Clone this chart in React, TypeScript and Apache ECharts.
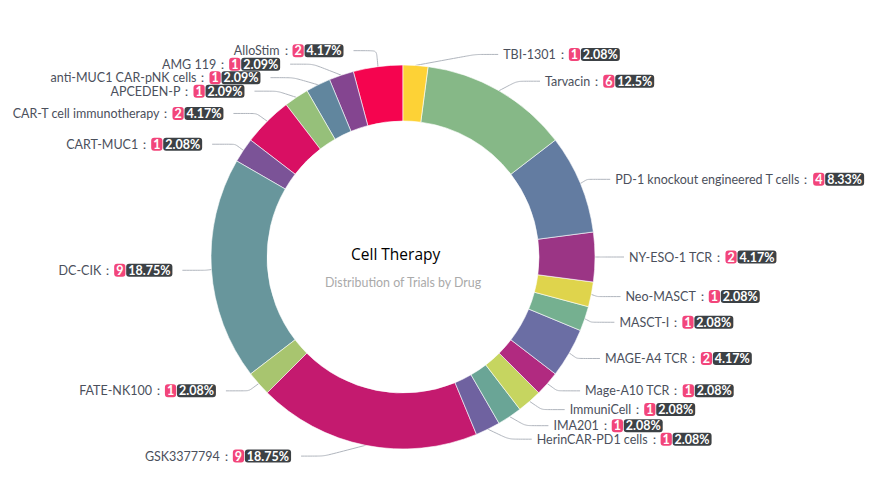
import React, { useEffect, useRef } from "react";
import * as echarts from "echarts";

const drugNames = [
  "AlloStim",
  "AMG 119",
  "anti-MUC1 CAR-pNK cells",
  "APCEDEN-P",
  "CAR-T cell immunotherapy",
  "CART-MUC1",
  "DC-CIK",
  "FATE-NK100",
  "GSK3377794",
  "HerinCAR-PD1 cells",
  "IMA201",
  "ImmuniCell",
  "Mage-A10 TCR",
  "MAGE-A4 TCR",
  "MASCT-I",
  "Neo-MASCT",
  "NY-ESO-1 TCR",
  "PD-1 knockout engineered T cells",
  "Tarvacin",
  "TBI-1301",
];

const trialCounts = [2, 1, 1, 1, 2, 1, 9, 1, 9, 1, 1, 1, 1, 2, 1, 1, 2, 4, 6, 1];

const sliceColors = [
  "#f5044f",
  "#844590",
  "#61869e",
  "#96c07a",
  "#d90f63",
  "#7b5397",
  "#68969c",
  "#a8c56f",
  "#c41a6f",
  "#6f62a0",
  "#6aa596",
  "#c6d560",
  "#b12a80",
  "#6b6ea4",
  "#75b090",
  "#dfd44c",
  "#9b3585",
  "#637ca1",
  "#86b887",
  "#fdd236",
];

const chartTitle = "Cell Therapy";
const chartSubtitle = "Distribution of Trials by Drug";

// geometry
const CX = 403;
const CY = 257;
const R_IN = 136;
const R_OUT = 192;
const LINE_LEN = 11;
const LINE_LEN2 = 23;
const LABEL_GAP = 5;
const LABEL_H = 13.5;

type LabelPos = {
  x: number;
  y: number;
  dir: number;
  p0: [number, number];
};

function computeLabelLayout(values: number[]): LabelPos[] {
  const total = values.reduce((a, b) => a + b, 0);
  let cum = 0;
  const items = values.map((v, i) => {
    const midDeg = 90 + ((cum + v / 2) / total) * 360;
    cum += v;
    const a = (midDeg * Math.PI) / 180;
    const cos = Math.cos(a);
    const sin = Math.sin(a);
    const dir = cos < 0 ? -1 : 1;
    return {
      i,
      dir,
      cos,
      sin,
      y0: CY - (R_OUT + LINE_LEN) * sin,
      y: 0,
      p0: [CX + R_OUT * cos, CY - R_OUT * sin] as [number, number],
    };
  });
  // resolve overlaps per side by clustering
  [-1, 1].forEach((d) => {
    const side = items.filter((it) => it.dir === d).sort((a, b) => a.y0 - b.y0);
    let clusters: { list: typeof side; c: number }[] = [];
    side.forEach((it) => {
      clusters.push({ list: [it], c: it.y0 });
      let merged = true;
      while (merged && clusters.length > 1) {
        merged = false;
        const b = clusters[clusters.length - 1];
        const a = clusters[clusters.length - 2];
        const aLast = a.c + ((a.list.length - 1) * LABEL_H) / 2;
        const bFirst = b.c - ((b.list.length - 1) * LABEL_H) / 2;
        if (aLast + LABEL_H > bFirst) {
          const list = a.list.concat(b.list);
          const c = list.reduce((s, x) => s + x.y0, 0) / list.length;
          clusters.splice(clusters.length - 2, 2, { list, c });
          merged = true;
        }
      }
    });
    clusters.forEach((cl) => {
      cl.list.forEach((it, k) => {
        it.y = cl.c - ((cl.list.length - 1) * LABEL_H) / 2 + k * LABEL_H;
      });
    });
  });
  const R2 = R_OUT + LINE_LEN + LINE_LEN2;
  return items.map((it) => {
    const dy = Math.abs(it.y - CY);
    let x: number;
    if (dy < R_OUT + LINE_LEN) {
      x = CX + it.dir * Math.sqrt(R2 * R2 - dy * dy);
    } else {
      x = CX + (R_OUT + LINE_LEN) * it.cos + it.dir * (LINE_LEN2 + LABEL_GAP);
    }
    return { x, y: it.y, dir: it.dir, p0: it.p0 };
  });
}

export default function App() {
  const ref = useRef<HTMLDivElement>(null);
  useEffect(() => {
    if (!ref.current) return;
    const chart = echarts.init(ref.current, undefined, { renderer: "svg" });
    const font = "Lato";
    const labelPos = computeLabelLayout(trialCounts);
    const box = {
      color: "#fff",
      borderRadius: 3,
      padding: [0, 2],
      fontSize: 12.5,
      lineHeight: 13,
      fontWeight: "bold",
      fontFamily: font,
    };
    chart.setOption({
      animation: false,
      graphic: [
        {
          type: "text",
          left: 351,
          top: 246,
          style: {
            text: chartTitle,
            fontSize: 15.5,
            fontFamily: "Open Sans",
            fill: "#000",
          },
        },
        {
          type: "text",
          left: 325,
          top: 276,
          style: {
            text: chartSubtitle,
            fontSize: 12.4,
            fontFamily: font,
            fill: "#aaaaaa",
          },
        },
      ],
      series: [
        {
          type: "pie",
          center: [CX, CY],
          radius: [R_IN, R_OUT],
          startAngle: 90,
          clockwise: false,
          avoidLabelOverlap: false,
          itemStyle: { borderColor: "#fff", borderWidth: 0.6 },
          label: {
            formatter: "{b}：{n|{c}}{s| }{p|{d}%}{e| }",
            color: "#4b505c",
            fontSize: 12.5,
            lineHeight: 13,
            fontFamily: font,
            rich: {
              n: { ...box, backgroundColor: "#f2457a" },
              s: { fontSize: 3, lineHeight: 13 },
              p: { ...box, backgroundColor: "#3c4145" },
              e: { fontSize: 3, width: 5, lineHeight: 13 },
            },
          },
          labelLine: {
            length: LINE_LEN,
            length2: LINE_LEN2,
            smooth: 0.15,
            lineStyle: { color: "#b0b5bd", width: 1 },
          },
          labelLayout: (params: any) => {
            const p = labelPos[params.dataIndex];
            if (!p) return {};
            const lineEnd = p.x - p.dir * LABEL_GAP;
            return {
              x: p.x,
              y: p.y,
              align: p.dir < 0 ? "right" : "left",
              verticalAlign: "middle",
              labelLinePoints: [
                p.p0,
                [lineEnd - p.dir * LINE_LEN2, p.y],
                [lineEnd, p.y],
              ],
            };
          },
          emphasis: { disabled: true },
          data: drugNames.map((name, i) => ({
            name,
            value: trialCounts[i],
            itemStyle: { color: sliceColors[i] },
          })),
        },
      ],
    });
    return () => chart.dispose();
  }, []);
  return (
    <div
      ref={ref}
      style={{ position: "absolute", left: 0, top: 0, width: 876, height: 497 }}
    />
  );
}
